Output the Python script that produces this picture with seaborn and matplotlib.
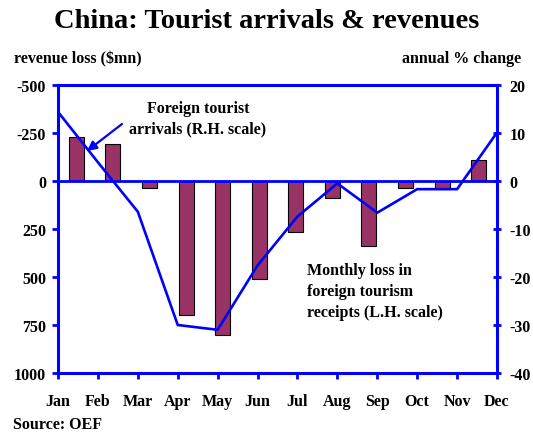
import matplotlib
matplotlib.use("Agg")
import matplotlib.pyplot as plt
import seaborn as sns
import pandas as pd

months = ["Jan", "Feb", "Mar", "Apr", "May", "Jun",
          "Jul", "Aug", "Sep", "Oct", "Nov", "Dec"]
# Monthly loss in foreign tourism receipts, $mn (left scale, inverted)
revenue_loss = [-230, -195, 35, 700, 800, 510, 265, 90, 340, 38, 40, -110]
# Foreign tourist arrivals, annual % change (right scale)
arrivals_change = [14.4, 3.9, -6.4, -30.0, -31.0, -17.6, -7.4, -0.5, -6.6, -1.7, -1.7, 10.1]

left_ticks = [-500, -250, 0, 250, 500, 750, 1000]
right_ticks = [20, 10, 0, -10, -20, -30, -40]

sns.set_theme(style="white")
plt.rcParams["font.family"] = ["Liberation Serif", "DejaVu Serif"]
plt.rcParams["font.weight"] = "bold"
plt.rcParams["text.color"] = "black"

BLUE = "#0000FF"
BAR = "#993366"
FS = 11.5
W, H = 533, 435
fig = plt.figure(figsize=(W / 100, H / 100), dpi=100)

rect = [58 / W, 1 - 374 / H, (497 - 58) / W, (374 - 86) / H]
ax = fig.add_axes(rect)
ax2 = fig.add_axes(rect, frameon=False)

df = pd.DataFrame({"month": months, "loss": revenue_loss})
sns.barplot(data=df, x="month", y="loss", ax=ax, color=BAR, width=0.41,
            edgecolor="black", linewidth=0.8, saturation=1)
ax.set_xlim(-0.5, 11.5)
ax.set_ylim(1000, -500)
ax.set_yticks(left_ticks)
ax.set_yticklabels([str(t) for t in left_ticks], fontsize=FS, fontweight="bold")
ax.set_xticks([])
ax.set_xlabel("")
ax.set_ylabel("")
ax.axhline(0, color=BLUE, lw=2.0, zorder=1)
for side in ["left", "right", "top", "bottom"]:
    ax.spines[side].set_color(BLUE)
    ax.spines[side].set_linewidth(2.2)
ax.tick_params(axis="y", left=True, length=4.5, width=2.0, color=BLUE,
               direction="out", pad=4, labelcolor="black")

line_df = pd.DataFrame({"pos": range(len(months)), "chg": arrivals_change})
sns.lineplot(data=line_df, x="pos", y="chg", ax=ax2, color=BLUE, lw=1.9)
ax2.set_xlim(0, len(months) - 1)
ax2.set_ylim(-40, 20)
ax2.yaxis.tick_right()
ax2.set_yticks(right_ticks)
ax2.set_yticklabels([str(t) for t in right_ticks], fontsize=FS, fontweight="bold")
ax2.set_xticks(range(len(months)))
ax2.set_xticklabels(months, fontsize=FS, fontweight="bold")
ax2.set_xlabel("")
ax2.set_ylabel("")
ax2.tick_params(axis="y", right=True, left=False, length=6, width=2.0,
                color=BLUE, direction="inout", pad=6, labelcolor="black")
ax2.tick_params(axis="x", bottom=True, length=4.5, width=2.0, color=BLUE,
                direction="out", pad=10, labelcolor="black")

fig.text(0.5, 1 - 21 / H, "China: Tourist arrivals & revenues",
         ha="center", va="center", fontsize=20.5, fontweight="bold")
fig.text(14 / W, 1 - 59 / H, "revenue loss ($mn)", ha="left", va="center",
         fontsize=FS, fontweight="bold")
fig.text(521 / W, 1 - 59 / H, "annual % change", ha="right", va="center",
         fontsize=FS, fontweight="bold")
fig.text(13 / W, 1 - 425 / H, "Source: OEF", ha="left", va="center",
         fontsize=FS, fontweight="bold")

ax2.text(198 / W, 1 - 119 / H, "Foreign tourist\narrivals (R.H. scale)",
         transform=fig.transFigure, ha="center", va="center",
         fontsize=FS, fontweight="bold", linespacing=1.4)
ax2.annotate("", xy=(87 / W, 1 - 152 / H), xycoords=fig.transFigure,
             xytext=(122 / W, 1 - 125 / H), textcoords=fig.transFigure,
             arrowprops=dict(arrowstyle="-|>", color=BLUE, lw=1.6,
                             mutation_scale=14, shrinkA=0, shrinkB=0))
ax2.text(307 / W, 1 - 292 / H,
         "Monthly loss in\nforeign tourism\nreceipts (L.H. scale)",
         transform=fig.transFigure, ha="left", va="center",
         fontsize=FS, fontweight="bold", linespacing=1.4)

fig.savefig("out.png", dpi=100, facecolor="white")
